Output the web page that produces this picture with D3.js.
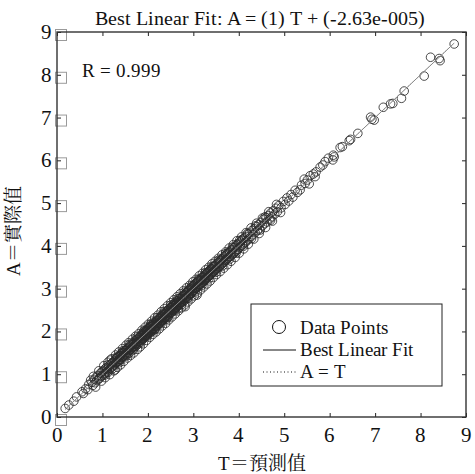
<!DOCTYPE html>
<html><head><meta charset="utf-8">
<script src="https://cdn.jsdelivr.net/npm/d3@7"></script>
<style>
@font-face{font-family:"RSerif";src:local("Liberation Serif"),local("LiberationSerif"),local("LiberationSerif-Regular"),local("Times New Roman");}
@font-face{font-family:"RCjk";src:local("Noto Serif CJK TC"),local("NotoSerifCJKtc-Regular"),local("Noto Serif CJK TC Regular");}
</style>
</head><body style="margin:0">
<svg id="c" width="475" height="474"></svg>
<script>
const titleText = "Best Linear Fit: A = (1) T + (-2.63e-005)";
const rText = "R = 0.999";
const xLabel = "T＝預測值";
const yLabel = "A＝實際值";
const xTicks = [0,1,2,3,4,5,6,7,8,9];
const yTicks = [0,1,2,3,4,5,6,7,8,9];
const fitSlope = 1, fitIntercept = -2.63e-5;
const legendLabels = ["Data Points","Best Linear Fit","A = T"];
const dataPoints = [
[0.18,0.20],[0.26,0.28],[0.37,0.37],[0.43,0.47],[0.55,0.59],[0.58,0.55],[0.63,0.66],[0.68,0.64],[0.70,0.76],[0.74,0.86],
[0.77,0.81],[0.79,0.74],[0.82,0.88],[0.84,0.80],[0.86,0.93],[0.88,0.85],[0.90,0.97],[0.92,0.89],[0.94,0.91],[0.96,1.03],[0.97,0.95],[0.99,1.06],
[1.01,0.97],[1.02,1.08],[1.04,1.01],[1.05,1.12],[1.07,1.03],[1.08,1.15],[1.10,1.06],[1.11,1.13],[1.12,1.04],[1.14,1.19],[1.15,1.11],[1.17,1.33],[1.18,1.14],[1.19,1.24],[1.21,1.17],[1.22,1.27],[1.23,1.20],[1.24,1.29],
[1.26,1.22],[1.27,1.31],[1.28,1.10],[1.29,1.26],[1.30,1.36],[1.31,1.28],[1.32,1.38],[1.33,1.29],[1.34,1.41],[1.35,1.32],[1.36,1.30],[1.37,1.44],[1.38,1.35],[1.39,1.43],[1.40,1.34],[1.41,1.47],[1.42,1.39],[1.43,1.49],[1.44,1.40],[1.45,1.52],[1.46,1.43],[1.47,1.50],[1.48,1.42],[1.49,1.55],
[1.50,1.47],[1.51,1.56],[1.52,1.45],[1.53,1.58],[1.54,1.50],[1.55,1.61],[1.56,1.52],[1.57,1.60],[1.58,1.49],[1.59,1.63],[1.60,1.56],[1.61,1.66],[1.62,1.58],[1.63,1.70],[1.64,1.60],[1.65,1.55],[1.66,1.69],[1.67,1.63],[1.68,1.74],[1.69,1.65],[1.70,1.72],[1.71,1.64],[1.72,1.78],[1.73,1.69],[1.74,1.76],[1.74,1.66],[1.75,1.81],[1.75,1.72],
[1.76,1.73],[1.77,1.82],[1.78,1.70],[1.79,1.84],[1.80,1.77],[1.81,1.86],[1.82,1.75],[1.83,1.88],[1.84,1.81],[1.85,1.91],[1.86,1.79],[1.87,1.90],[1.88,1.84],[1.88,1.95],[1.89,1.82],[1.90,1.93],[1.91,1.87],[1.92,1.97],[1.92,1.85],[1.93,1.99],[1.94,1.90],[1.95,2.02],[1.95,1.88],[1.96,1.94],[1.97,2.03],[1.97,1.91],[1.98,2.00],[1.99,1.93],[1.99,2.06],[2.00,1.96],
[2.01,2.05],[2.01,1.95],[2.02,2.08],[2.03,1.99],[2.04,2.11],[2.04,2.01],[2.05,1.97],[2.06,2.10],[2.07,2.03],[2.07,2.14],[2.08,2.00],[2.09,2.12],[2.10,2.06],[2.10,2.17],[2.11,2.04],[2.12,2.15],[2.13,2.09],[2.13,2.21],[2.14,2.07],[2.15,2.18],[2.16,2.12],[2.16,2.05],[2.17,2.22],[2.18,2.14],[2.19,2.25],[2.19,2.11],[2.20,2.19],[2.21,2.27],[2.22,2.16],[2.23,2.24],[2.24,2.18],[2.25,2.31],
[2.26,2.21],[2.26,2.30],[2.27,2.19],[2.28,2.33],[2.29,2.25],[2.29,2.36],[2.30,2.23],[2.31,2.34],[2.32,2.28],[2.32,2.39],[2.33,2.26],[2.34,2.37],[2.35,2.31],[2.35,2.42],[2.36,2.29],[2.37,2.40],[2.38,2.33],[2.38,2.45],[2.39,2.32],[2.40,2.43],[2.41,2.36],[2.41,2.29],[2.42,2.47],[2.43,2.39],[2.44,2.50],[2.44,2.36],[2.45,2.43],[2.46,2.52],[2.47,2.41],[2.48,2.49],[2.49,2.43],[2.50,2.56],
[2.51,2.46],[2.51,2.55],[2.52,2.44],[2.53,2.58],[2.54,2.50],[2.54,2.61],[2.55,2.48],[2.56,2.59],[2.57,2.53],[2.57,2.64],[2.58,2.51],[2.59,2.62],[2.60,2.56],[2.60,2.68],[2.61,2.54],[2.62,2.65],[2.63,2.58],[2.63,2.71],[2.64,2.57],[2.65,2.68],[2.66,2.61],[2.66,2.53],[2.67,2.72],[2.68,2.64],[2.69,2.76],[2.69,2.62],[2.70,2.69],[2.71,2.78],[2.72,2.66],[2.73,2.75],[2.74,2.68],[2.75,2.81],
[2.76,2.71],[2.76,2.80],[2.77,2.69],[2.78,2.84],[2.79,2.75],[2.80,2.86],[2.81,2.73],[2.82,2.58],[2.82,2.85],[2.83,2.78],[2.84,2.90],[2.85,2.80],[2.85,2.91],[2.86,2.77],[2.87,2.93],[2.88,2.83],[2.89,2.95],[2.90,2.84],[2.90,2.97],[2.91,2.87],[2.92,2.99],[2.93,2.88],[2.94,3.01],[2.95,2.90],[2.96,3.03],[2.96,2.89],[2.97,2.99],[2.98,2.93],[2.99,3.06],[3.00,2.95],
[3.01,3.07],[3.02,2.96],[3.03,3.10],[3.04,3.00],[3.05,3.12],[3.06,3.01],[3.07,3.14],[3.08,2.85],[3.08,3.04],[3.09,3.16],[3.10,3.05],[3.11,3.18],[3.12,3.07],[3.13,3.20],[3.14,3.09],[3.15,3.22],[3.15,3.10],[3.16,3.19],[3.17,3.12],[3.18,3.25],[3.19,3.14],[3.20,3.27],[3.21,3.15],[3.22,3.28],[3.23,3.18],[3.24,3.31],[3.24,3.20],[3.25,3.29],
[3.26,3.21],[3.27,3.34],[3.28,3.23],[3.29,3.36],[3.30,3.26],[3.31,3.37],[3.32,3.27],[3.33,3.40],[3.34,3.29],[3.35,3.42],[3.36,3.31],[3.37,3.44],[3.38,3.33],[3.39,3.46],[3.40,3.35],[3.41,3.47],[3.42,3.37],[3.43,3.50],[3.44,3.39],[3.45,3.52],[3.46,3.41],[3.47,3.53],[3.48,3.43],[3.49,3.56],
[3.51,3.46],[3.52,3.58],[3.53,3.48],[3.55,3.61],[3.56,3.50],[3.57,3.64],[3.58,3.53],[3.60,3.66],[3.61,3.56],[3.62,3.69],[3.63,3.58],[3.65,3.71],[3.66,3.61],[3.67,3.74],[3.68,3.63],[3.70,3.76],[3.71,3.66],[3.72,3.79],[3.73,3.68],[3.75,3.81],
[3.76,3.71],[3.77,3.84],[3.79,3.74],[3.80,3.86],[3.82,3.76],[3.83,3.90],[3.84,3.79],[3.86,3.92],[3.87,3.81],[3.89,3.96],[3.90,3.84],[3.91,3.97],[3.93,3.87],[3.94,4.01],[3.95,3.89],[3.97,4.03],[3.98,3.92],[4.00,4.06],
[4.01,3.96],[4.03,4.09],[4.04,3.98],[4.06,4.13],[4.08,4.02],[4.09,4.16],[4.11,4.05],[4.13,4.19],[4.14,4.08],[4.16,4.22],[4.18,4.12],[4.20,4.27],[4.22,4.16],[4.24,4.30],
[4.27,4.22],[4.29,4.36],[4.31,4.26],[4.34,4.40],[4.36,4.31],[4.39,4.45],[4.41,4.36],[4.44,4.50],[4.46,4.40],[4.49,4.55],
[4.52,4.47],[4.54,4.62],[4.57,4.52],[4.60,4.66],[4.62,4.56],[4.65,4.71],[4.68,4.63],[4.70,4.77],[4.73,4.68],[4.76,4.82],[4.79,4.74],[4.82,4.88],[4.85,4.80],[4.88,4.94],[4.93,4.89],
[4.98,5.04],[5.02,4.97],[5.06,5.12],[5.10,5.05],[5.15,5.20],[5.19,5.14],[5.24,5.30],[5.29,5.25],
[5.35,5.31],[5.38,5.42],[5.46,5.46],[5.44,5.56],[5.55,5.45],[5.51,5.54],[5.57,5.64],[5.64,5.68],[5.68,5.62],[5.70,5.73],[5.79,5.84],[5.85,5.89],[5.90,5.97],[5.97,6.05],[6.07,6.01],[6.10,6.08],[6.08,6.12],[6.23,6.30],[6.28,6.32],[6.43,6.46],[6.46,6.49],[6.62,6.63],
[6.93,6.96],[6.98,6.94],[6.90,7.01],[7.18,7.24],[7.34,7.32],[7.39,7.33],[7.58,7.45],[7.64,7.62],[8.08,7.97],[8.43,8.33],[8.41,8.38],[8.22,8.41],[8.74,8.72]
];
const widePoints = [
[0.80,0.95],[0.85,0.70],[0.92,1.08],[0.98,0.84],[1.03,1.20],[1.06,0.92],[1.12,1.28],[1.16,0.99],[1.20,1.36],[1.25,1.08],[1.29,1.45],[1.33,1.16],[1.36,1.52],[1.40,1.22],[1.44,1.60],[1.47,1.30],[1.52,1.68],[1.55,1.38],[1.58,1.74],[1.62,1.44],[1.66,1.82],[1.69,1.50],[1.73,1.89],[1.77,1.58],[1.80,1.95],[1.83,1.64],[1.87,2.03],[1.90,1.71],[1.94,2.10],[1.97,1.79],
[2.01,2.17],[2.04,1.86],[2.08,2.24],[2.11,1.93],[2.15,2.32],[2.18,1.99],[2.22,2.38],[2.25,2.06],[2.29,2.46],[2.32,2.13],[2.36,2.53],[2.39,2.19],[2.43,2.60],[2.46,2.27],[2.50,2.67],[2.53,2.34],[2.57,2.74],[2.60,2.41],[2.64,2.81],[2.67,2.48],[2.71,2.88],[2.74,2.55],[2.78,2.95],[2.81,2.62],[2.85,3.02],[2.88,2.69],[2.92,3.08],[2.95,2.76],[2.99,3.16],[3.02,2.83],
[3.06,3.22],[3.09,2.90],[3.13,3.30],[3.16,2.97],[3.20,3.36],[3.23,3.04],[3.27,3.44],[3.30,3.11],[3.34,3.50],[3.37,3.18],[3.41,3.58],[3.44,3.26],[3.48,3.64],[3.51,3.33],[3.55,3.71],[3.59,3.40],[3.63,3.79],[3.67,3.48],[3.71,3.86],[3.75,3.56],[3.79,3.95],[3.83,3.64],[3.88,4.03],[3.92,3.73],[3.96,4.12],[4.01,3.83],[4.06,4.21],[4.11,3.93],[4.16,4.31],[4.21,4.04],
[4.27,4.42],[4.33,4.16],[4.39,4.53],[4.45,4.29],[4.52,4.65],[4.59,4.43],[4.66,4.80],[4.74,4.58],[4.83,4.97],[4.92,4.78],
[1.05,0.98],[1.13,1.22],[1.21,1.12],[1.30,1.39],[1.37,1.27],[1.45,1.55],[1.53,1.43],[1.60,1.70],[1.68,1.58],[1.76,1.87],[1.84,1.73],[1.91,2.01],[1.99,1.89],[2.06,2.17],[2.14,2.03],[2.21,2.32],[2.29,2.18],[2.36,2.47],[2.44,2.33],[2.51,2.62],[2.59,2.48],[2.66,2.77],[2.74,2.63],[2.81,2.92],[2.89,2.78],[2.96,3.07],[3.04,2.93],[3.11,3.22],[3.19,3.08],[3.26,3.37],
[3.34,3.23],[3.41,3.52],[3.49,3.38],[3.56,3.67],[3.64,3.53],[3.71,3.82],[3.79,3.68],[3.86,3.97],[3.94,3.83],[4.02,4.13],[4.10,3.99],[4.19,4.29],[4.28,4.17],[4.37,4.47],[4.47,4.37],[4.58,4.68],[4.70,4.60]
];
const allPoints = dataPoints.concat(widePoints);

const SF = '"RSerif", "Liberation Serif", "RCjk", "Noto Serif CJK TC"';
const svg = d3.select("#c");
const L = 57, R = 466, T = 32, B = 417;
const x = d3.scaleLinear().domain([0,9]).range([L,R]);
const y = d3.scaleLinear().domain([0,9]).range([B,T]);
const font = (sel, size) => sel.style("font-family", SF, "important").style("font-size", size + "px", "important").attr("fill","#111");

// title & labels
font(svg.append("text").attr("x",(L+R)/2 - 2).attr("y",24.5).attr("text-anchor","middle"), 20).text(titleText);
font(svg.append("text").attr("x",82).attr("y",77), 19).text(rText);
font(svg.append("text").attr("x",(L+R)/2).attr("y",470).attr("text-anchor","middle"), 19).text(xLabel);
font(svg.append("text").attr("transform","translate(20,231) rotate(-90)").attr("text-anchor","middle"), 19).text(yLabel);

// left tick boxes
svg.append("g").selectAll("rect").data(yTicks).join("rect")
  .attr("x", L - 1.5).attr("y", d => y(d) - 2.5).attr("width", 11).attr("height", 11)
  .attr("fill","none").attr("stroke","#9a9a9a").attr("stroke-width",1);

// data points
svg.append("g").selectAll("circle").data(allPoints).join("circle")
  .attr("cx", d => x(d[0])).attr("cy", d => y(d[1])).attr("r", 4.3)
  .attr("fill","none").attr("stroke","#2a2a2a").attr("stroke-width",0.85);

// fit line and A=T
const tMin = d3.min(allPoints, d => d[0]), tMax = d3.max(allPoints, d => d[0]);
svg.append("line").attr("x1", x(tMin)).attr("y1", y(fitSlope*tMin+fitIntercept))
  .attr("x2", x(tMax)).attr("y2", y(fitSlope*tMax+fitIntercept))
  .attr("stroke","#888").attr("stroke-width",1);
svg.append("line").attr("x1", x(tMin)).attr("y1", y(tMin)).attr("x2", x(tMax)).attr("y2", y(tMax))
  .attr("stroke","#888").attr("stroke-width",1).attr("stroke-dasharray","1,2");

// axes
const gB = svg.append("g").attr("transform",`translate(0,${B})`)
  .call(d3.axisBottom(x).tickValues(xTicks).tickFormat("").tickSizeInner(-4).tickSizeOuter(0));
const gL = svg.append("g").attr("transform",`translate(${L},0)`)
  .call(d3.axisLeft(y).tickValues(yTicks).tickFormat("").tickSizeInner(-4).tickSizeOuter(0));
const gT = svg.append("g").attr("transform",`translate(0,${T})`)
  .call(d3.axisTop(x).tickValues(xTicks).tickFormat("").tickSizeInner(-4).tickSizeOuter(0));
const gR = svg.append("g").attr("transform",`translate(${R},0)`)
  .call(d3.axisRight(y).tickValues(yTicks).tickFormat("").tickSizeInner(-4).tickSizeOuter(0));
[gB,gL,gT,gR].forEach(g => { g.select(".domain").remove(); g.selectAll("line").attr("stroke","#222"); g.selectAll("text").remove(); });
font(svg.append("g").selectAll("text").data(xTicks).join("text")
  .attr("x", d => x(d)).attr("y", B + 25).attr("text-anchor","middle"), 21).text(d => d);
font(svg.append("g").selectAll("text").data(yTicks).join("text")
  .attr("x", L - 5).attr("y", d => y(d) + 7).attr("text-anchor","end"), 21).text(d => d);
svg.append("rect").attr("x",L).attr("y",T).attr("width",R-L).attr("height",B-T)
  .attr("fill","none").attr("stroke","#333").attr("stroke-width",1.4);

// legend
const lg = svg.append("g");
lg.append("rect").attr("x",251).attr("y",304).attr("width",191).attr("height",82)
  .attr("fill","#fff").attr("stroke","#222").attr("stroke-width",1);
const rows = [328, 350, 372];
font(lg.selectAll("text").data(legendLabels).join("text")
  .attr("x",300).attr("y",(d,i)=>rows[i]+5.5), 19).text(d=>d);
lg.append("circle").attr("cx",279).attr("cy",rows[0]-1).attr("r",6.5).attr("fill","none").attr("stroke","#111").attr("stroke-width",1);
lg.append("line").attr("x1",263).attr("x2",296).attr("y1",rows[1]).attr("y2",rows[1]).attr("stroke","#111").attr("stroke-width",1);
lg.append("line").attr("x1",263).attr("x2",296).attr("y1",rows[2]).attr("y2",rows[2]).attr("stroke","#111").attr("stroke-width",1).attr("stroke-dasharray","1,2.5");
</script>
</body></html>
